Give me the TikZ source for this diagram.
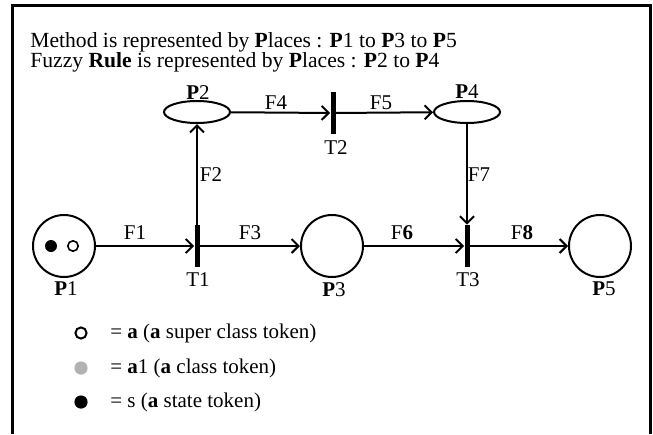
\documentclass[tikz,border=0pt]{standalone}
\usepackage{fontspec}
\setmainfont{Liberation Serif}
\usepackage{tikz}
\usetikzlibrary{arrows.meta,shapes.geometric}

\begin{document}
\begin{tikzpicture}[x=0.5pt, y=-0.5pt,
    every node/.style={font=\fontsize{10.5pt}{11pt}\selectfont, inner sep=1pt},
    headtext/.style={anchor=west, align=left, font=\fontsize{10.8pt}{10pt}\selectfont},
    place/.style={circle, draw, line width=1pt, minimum size=31pt, inner sep=0pt},
    flatplace/.style={ellipse, draw, line width=1pt, minimum width=33pt, minimum height=11pt, inner sep=0pt},
    transition/.style={rectangle, fill=black, minimum width=2.5pt, minimum height=21pt, inner sep=0pt},
    flow/.style={line width=1pt, -{Straight Barb[length=3.5pt, width=7pt, line width=1pt]}}]
    \useasboundingbox (0,0) rectangle (653,434);

    % Frame (open at the bottom)
    \draw[line width=1.5pt] (12,434) -- (12,5) -- (650,5) -- (650,434);

    % Header text
    \node[headtext] (head) at (28,52) {Method is represented by \textbf{P}laces : \textbf{P}1 to \textbf{P}3 to \textbf{P}5\\
        Fuzzy \textbf{Rule} is represented by \textbf{P}laces : \textbf{P}2 to \textbf{P}4};

    % Places
    \node[place] (p1) at (64,246) {};
    \node[flatplace] (p2) at (197,112) {};
    \node[place] (p3) at (332,246) {};
    \node[flatplace] (p4) at (467,112) {};
    \node[place] (p5) at (600,246) {};

    % Transitions
    \node[transition] (t1) at (197,246) {};
    \node[transition] (t2) at (333,113) {};
    \node[transition] (t3) at (467,246) {};

    % Tokens in P1
    \fill[black] (51,246) circle (3pt);
    \draw[line width=0.8pt, fill=white] (73,246) circle (2.6pt);

    % Arcs
    \draw[flow] (p1) -- (t1);
    \draw[flow] (t1) -- (p3);
    \draw[flow] (p3) -- (t3);
    \draw[flow] (t3) -- (p5);
    \draw[flow] (t1) -- (p2);
    \draw[flow] (p2) -- (t2);
    \draw[flow] (t2) -- (p4);
    \draw[flow] (p4) -- (t3);

    % Arc labels
    \node (f1) at (135,233) {F1};
    \node (f2) at (211,175) {F2};
    \node (f3) at (250,233) {F3};
    \node (f4) at (276,103) {F4};
    \node (f5) at (381,103) {F5};
    \node (f6) at (402,233) {F\textbf{6}};
    \node (f7) at (479,175) {F7};
    \node (f8) at (522,233) {F\textbf{8}};

    % Place and transition names
    \node (p1lab) at (66,289) {\textbf{P}1};
    \node (p2lab) at (198,93) {\textbf{P}2};
    \node (p3lab) at (334,290) {\textbf{P}3};
    \node (p4lab) at (467,92) {\textbf{P}4};
    \node (p5lab) at (604,289) {\textbf{P}5};
    \node (t1lab) at (198,280) {T1};
    \node (t2lab) at (336,148) {T2};
    \node (t3lab) at (468,280) {T3};

    % Legend
    \draw[line width=1pt, fill=white] (81,333) circle (2.8pt);
    \fill[black!30] (81,368) circle (3.3pt);
    \fill[black] (81,402) circle (3.3pt);
    \node[anchor=west] (leg1) at (108,333) {= \textbf{a} (\textbf{a} super class token)};
    \node[anchor=west] (leg2) at (108,368) {= \textbf{a}1 (\textbf{a} class token)};
    \node[anchor=west] (leg3) at (108,402) {= s (\textbf{a} state token)};
\end{tikzpicture}
\end{document}
